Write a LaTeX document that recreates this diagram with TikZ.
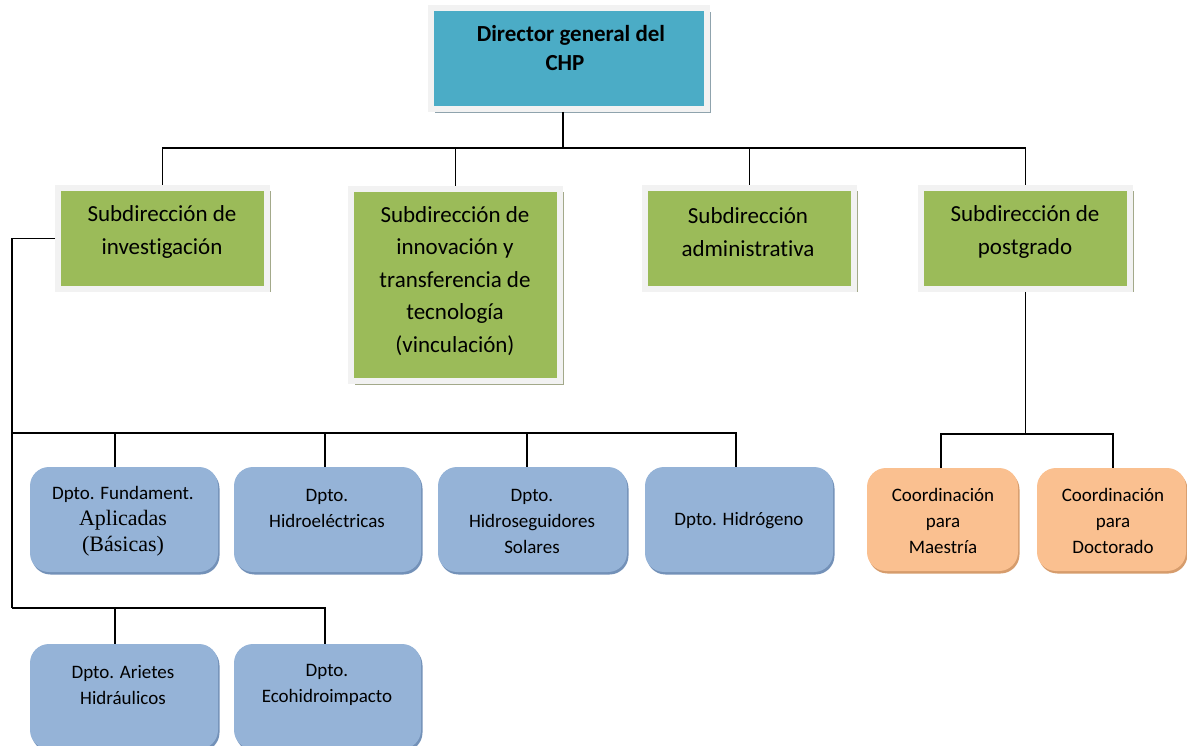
\documentclass[tikz,border=0pt]{standalone}
\usepackage{fontspec}
\setmainfont[RawFeature={-liga;-clig;-calt;-dlig}]{Carlito}
\newfontfamily\serifface{Liberation Serif}
\usetikzlibrary{shadows}
\definecolor{headteal}{HTML}{4BACC6}
\definecolor{subgreen}{HTML}{9BBB59}
\definecolor{deptblue}{HTML}{95B3D7}
\definecolor{coordorange}{HTML}{FAC090}
\definecolor{framegray}{HTML}{F2F2F2}
\definecolor{tealshade}{HTML}{8FA3AD}
\definecolor{greenshade}{HTML}{A3A98A}
\definecolor{blueshade}{HTML}{7391B8}
\definecolor{orangeshade}{HTML}{D69C6C}
\begin{document}
\begin{tikzpicture}[x=1pt,y=-1pt,
  link/.style={draw=black,line width=1.5pt},
  headbox/.style={rectangle,fill=headteal,draw=framegray,line width=6pt,
    drop shadow={shadow xshift=4pt,shadow yshift=-4pt,fill=tealshade,opacity=1}},
  subbox/.style={rectangle,fill=subgreen,draw=framegray,line width=6pt,minimum width=209pt,
    drop shadow={shadow xshift=3.5pt,shadow yshift=-3.5pt,fill=greenshade,opacity=1}},
  deptbox/.style={rectangle,rounded corners=19pt,fill=deptblue,minimum height=105pt,
    drop shadow={shadow xshift=1.5pt,shadow yshift=-2.5pt,fill=blueshade,opacity=1}},
  coordbox/.style={rectangle,rounded corners=19pt,fill=coordorange,minimum height=103pt,
    drop shadow={shadow xshift=1.5pt,shadow yshift=-2.5pt,fill=orangeshade,opacity=1}},
  headtext/.style={align=center,inner sep=0pt,font=\fontsize{23}{29}\selectfont\bfseries},
  subtext/.style={align=center,inner sep=0pt,font=\fontsize{23}{32.5}\selectfont},
  depttext/.style={align=center,inner sep=0pt,font=\fontsize{19}{26}\selectfont},
]
\useasboundingbox (0,0) rectangle (1187,746);

% director
\node[headbox,minimum width=276pt,minimum height=101pt] (dir) at (569,58.5) {};
\node[headtext] (dirtxt) at (571,48) {Director general del\\CHP\hspace*{12pt}};

% subdirections
\node[subbox,minimum height=101pt] (s1) at (162.5,238.5) {};
\node[subbox,minimum height=192pt] (s2) at (455.5,285) {};
\node[subbox,minimum height=101pt] (s3) at (749.5,238.5) {};
\node[subbox,minimum height=101pt] (s4) at (1025.5,238.5) {};
\node[subtext] (s1txt) at (162,232) {Subdirección de\\investigación};
\node[subtext] (s2txt) at (455,281) {Subdirección de\\innovación y\\transferencia de\\tecnología\\(vinculación)};
\node[subtext] (s3txt) at (748,232) {Subdirección\\administrativa};
\node[subtext] (s4txt) at (1025,232) {Subdirección de\\postgrado};

% departments
\node[deptbox,minimum width=188pt] (d1) at (124,519.5) {};
\node[deptbox,minimum width=187pt] (d2) at (327.5,519.5) {};
\node[deptbox,minimum width=189pt] (d3) at (532.5,519.5) {};
\node[deptbox,minimum width=188pt] (d4) at (739,519.5) {};
\node[deptbox,minimum width=188pt] (e1) at (124,696.5) {};
\node[deptbox,minimum width=187pt] (e2) at (327.5,696.5) {};
\node[depttext] (d1txt) at (123,521) {Dpto. Fundament.\\{\serifface\fontsize{22}{26}\selectfont Aplicadas}\\{\serifface\fontsize{22}{26}\selectfont (Básicas)}};
\node[depttext] (d2txt) at (327,508) {Dpto.\\Hidroeléctricas};
\node[depttext] (d3txt) at (532,521) {Dpto.\\Hidroseguidores\\Solares};
\node[depttext] (d4txt) at (739,521) {Dpto. Hidrógeno};
\node[depttext] (e1txt) at (123,685) {Dpto. Arietes\\Hidráulicos};
\node[depttext] (e2txt) at (327,685) {Dpto.\\Ecohidroimpacto};

% postgraduate coordinations
\node[coordbox,minimum width=151pt] (o1) at (942.5,519.5) {};
\node[coordbox,minimum width=149pt] (o2) at (1111.5,519.5) {};
\node[depttext] (o1txt) at (943,521) {Coordinación\\para\\Maestría};
\node[depttext] (o2txt) at (1113,521) {Coordinación\\para\\Doctorado};

% top level connectors
\coordinate (hub) at (563,148);
\draw[link] (dir.south -| hub) -- (hub);
\draw[link] (s1.north) |- (hub) -| (s4.north);
\draw[link] (s2.north) -- (s2.north |- hub);
\draw[link] (s3.north) -- (s3.north |- hub);

% research departments bus
\coordinate (lb1) at (12,433);
\coordinate (lb2) at (12,608);
\coordinate (tap1) at (115,433);
\coordinate (tap2) at (325,433);
\coordinate (tap3) at (527,433);
\coordinate (tap4) at (736,433);
\coordinate (tap5) at (115,608);
\coordinate (tap6) at (325,608);
\draw[link] (s1.west) -| (lb2);
\draw[link] (lb1) -- (tap4) -- (tap4 |- d4.north);
\draw[link] (tap1) -- (tap1 |- d1.north);
\draw[link] (tap2) -- (tap2 |- d2.north);
\draw[link] (tap3) -- (tap3 |- d3.north);
\draw[link] (lb2) -- (tap6) -- (tap6 |- e2.north);
\draw[link] (tap5) -- (tap5 |- e1.north);

% postgraduate bus
\coordinate (pgL) at (941,434);
\coordinate (pgR) at (1113,434);
\draw[link] (s4.south) -- (s4.south |- pgL);
\draw[link] (pgL |- o1.north) -- (pgL) -- (pgR) -- (pgR |- o2.north);
\end{tikzpicture}
\end{document}
